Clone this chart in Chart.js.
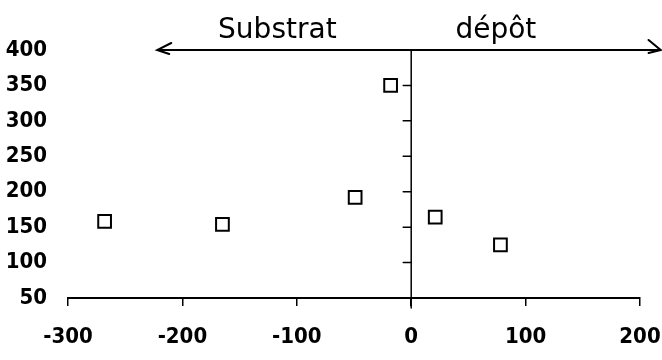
<!DOCTYPE html>
<html>
<head>
<meta charset="utf-8">
<script src="https://cdn.jsdelivr.net/npm/chart.js@4/dist/chart.umd.min.js"></script>
<style>
  html, body { margin: 0; padding: 0; background: #fff; }
  #wrap { width: 662px; height: 360px; position: relative; }
</style>
</head>
<body>
<div id="wrap"><canvas id="c"></canvas></div>
<script>
// ---- data ----
const xValues = [-268, -165, -49, -18, 21, 78];
const yValues = [158, 154, 192, 350, 164, 125];
const xTickValues = [-300, -200, -100, 0, 100, 200];
const yTickValues = [50, 100, 150, 200, 250, 300, 350, 400];
const arrowX = [-222, 218];
const arrowY = [400, 400];
const axisLineX = [0, 0];
const axisLineY = [50, 400];
const annotationTexts = ['Substrat', 'dépôt'];
const annotationX = [-117, 74];

const tickFont = { family: "'DejaVu Sans Condensed', 'DejaVu Sans', sans-serif", size: 22, weight: 'bold' };

const arrowPlugin = {
  id: 'arrowAndText',
  afterDatasetsDraw(chart) {
    const ctx = chart.ctx;
    const xs = chart.scales.x, ys = chart.scales.y;
    const yPix = ys.getPixelForValue(arrowY[0]);
    const x0 = xs.getPixelForValue(arrowX[0]);
    const x1 = xs.getPixelForValue(arrowX[1]);
    ctx.save();
    ctx.strokeStyle = '#000';
    ctx.lineWidth = 2;
    ctx.lineCap = 'round';
    ctx.beginPath();
    ctx.moveTo(x0 + 14, yPix - 7); ctx.lineTo(x0, yPix); ctx.lineTo(x0 + 12, yPix + 4);
    ctx.moveTo(x1 - 12, yPix - 10); ctx.lineTo(x1, yPix); ctx.lineTo(x1 - 12, yPix + 3);
    ctx.stroke();
    // left-pointing ticks on the x=0 vertical line
    const xz = xs.getPixelForValue(0);
    ctx.lineWidth = 1.5;
    ctx.beginPath();
    yTickValues.slice(1, 7).forEach(v => {
      const p = ys.getPixelForValue(v);
      ctx.moveTo(xz - 8, p); ctx.lineTo(xz, p);
    });
    ctx.moveTo(xz, ys.getPixelForValue(50)); ctx.lineTo(xz, ys.getPixelForValue(50) + 10);
    ctx.stroke();
    // annotations
    ctx.fillStyle = '#000';
    ctx.font = "28px 'DejaVu Sans', sans-serif";
    ctx.textAlign = 'center';
    ctx.textBaseline = 'alphabetic';
    annotationTexts.forEach((t, i) => {
      ctx.fillText(t, xs.getPixelForValue(annotationX[i]), yPix - 12);
    });
    ctx.restore();
  }
};

new Chart(document.getElementById('c'), {
  type: 'scatter',
  data: {
    datasets: [
      {
        label: 'points',
        data: xValues.map((x, i) => ({ x, y: yValues[i] })),
        pointStyle: 'rect',
        radius: 9,
        borderColor: '#000',
        borderWidth: 2,
        backgroundColor: 'rgba(255,255,255,0)',
        showLine: false
      },
      {
        label: 'arrow',
        data: arrowX.map((x, i) => ({ x, y: arrowY[i] })),
        showLine: true,
        borderColor: '#000',
        borderWidth: 2,
        pointRadius: 0,
        clip: false
      },
      {
        label: 'zero',
        data: axisLineX.map((x, i) => ({ x, y: axisLineY[i] })),
        showLine: true,
        borderColor: '#000',
        borderWidth: 1.5,
        pointRadius: 0,
        clip: false
      }
    ]
  },
  options: {
    responsive: true,
    maintainAspectRatio: false,
    animation: false,
    layout: { padding: { top: 50, right: 22, left: 0, bottom: 0 } },
    plugins: { legend: { display: false }, tooltip: { enabled: false } },
    scales: {
      x: {
        type: 'linear',
        min: -300, max: 200,
        afterBuildTicks: s => { s.ticks = xTickValues.map(v => ({ value: v })); },
        afterFit: s => { s.height = 62; s.paddingLeft = 0; s.paddingRight = 0; },
        border: { display: true, color: '#000', width: 2 },
        grid: { drawOnChartArea: false, drawTicks: true, tickLength: 8, color: '#000', lineWidth: 1.5 },
        ticks: { color: '#000', font: tickFont, padding: 18, maxRotation: 0,
                 callback: v => (v < 0 ? '-' + Math.abs(v) : String(v)) }
      },
      y: {
        type: 'linear',
        min: 50, max: 400,
        afterBuildTicks: s => { s.ticks = yTickValues.map(v => ({ value: v })); },
        afterFit: s => { s.width = 68; s.paddingTop = 0; s.paddingBottom = 0; },
        border: { display: false },
        grid: { display: false, drawTicks: false },
        ticks: { color: '#000', font: tickFont, padding: 21 }
      }
    }
  },
  plugins: [arrowPlugin]
});
</script>
</body>
</html>
